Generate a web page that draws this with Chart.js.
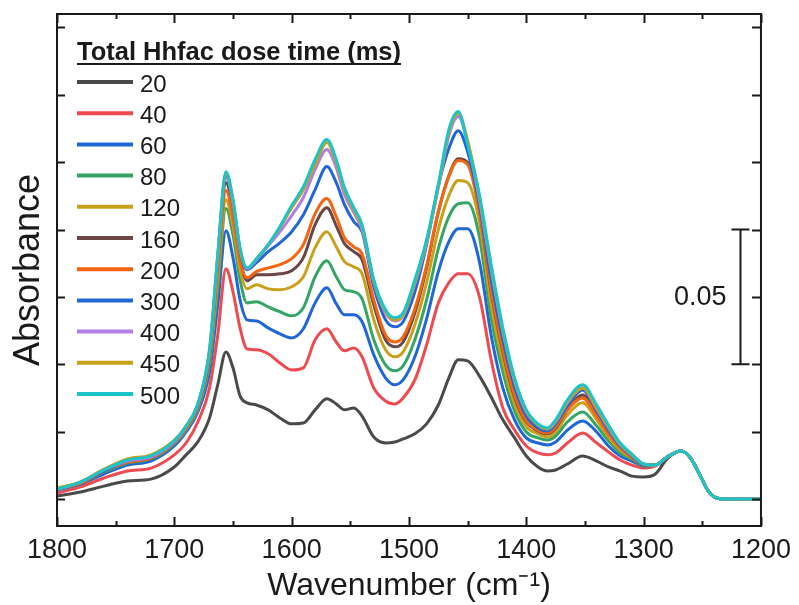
<!DOCTYPE html>
<html>
<head>
<meta charset="utf-8">
<script src="https://cdn.jsdelivr.net/npm/chart.js@4.4.0/dist/chart.umd.min.js"></script>
<style>
  html, body { margin: 0; padding: 0; background: #fff; }
</style>
</head>
<body>
<canvas id="myChart" width="799" height="605"></canvas>
<script>
// wavenumber grid (cm-1), shared by all spectra
var wavenumbers = [1800, 1780, 1760, 1740, 1720, 1700, 1690, 1680, 1670, 1663,
    1656, 1650, 1644, 1638, 1630, 1620, 1610, 1600, 1590, 1580,
    1570, 1562, 1555, 1547, 1540, 1530, 1520, 1512, 1505, 1495,
    1485, 1475, 1466, 1458, 1450, 1440, 1430, 1420, 1410, 1400,
    1390, 1382, 1375, 1365, 1352, 1340, 1330, 1320, 1310, 1300,
    1290, 1280, 1268, 1260, 1252, 1245, 1238, 1230, 1215, 1200];

var doseTimes = ['20', '40', '60', '80', '120', '160', '200', '300', '400', '450', '500'];
var lineColors = ['#4a4a4a', '#ee4a50', '#1f66d6', '#35a566', '#c9a01a', '#6b4646',
    '#f5650f', '#1f66d6', '#b27ee6', '#c9a01a', '#1cc4c8'];

var abs20 = [0.0011, 0.0026, 0.0048, 0.0067, 0.0074, 0.0119, 0.0164, 0.0212, 0.0301, 0.0424,
    0.0546, 0.0487, 0.0383, 0.0357, 0.0349, 0.0331, 0.0301, 0.0279, 0.0282, 0.0331,
    0.0372, 0.0353, 0.0331, 0.0338, 0.0308, 0.0230, 0.0208, 0.0212, 0.0223, 0.0242,
    0.0279, 0.0349, 0.0450, 0.0517, 0.0513, 0.0457, 0.0379, 0.0294, 0.0227, 0.0160,
    0.0119, 0.0104, 0.0108, 0.0130, 0.0160, 0.0141, 0.0119, 0.0104, 0.0085, 0.0082,
    0.0093, 0.0149, 0.0178, 0.0152, 0.0089, 0.0030, 0.0004, 0, 0, 0];
var abs40 = [0.0022, 0.0045, 0.0078, 0.0104, 0.0115, 0.0164, 0.0208, 0.0286, 0.0412, 0.0609,
    0.0855, 0.0769, 0.0635, 0.0557, 0.0554, 0.0539, 0.0505, 0.0479, 0.0487, 0.0591,
    0.0632, 0.0583, 0.0550, 0.0561, 0.0528, 0.0412, 0.0364, 0.0353, 0.0375, 0.0442,
    0.0572, 0.0728, 0.0803, 0.0836, 0.0836, 0.0751, 0.0517, 0.0338, 0.0256, 0.0197,
    0.0171, 0.0164, 0.0171, 0.0208, 0.0245, 0.0208, 0.0175, 0.0145, 0.0126, 0.0115,
    0.0123, 0.0156, 0.0178, 0.0152, 0.0089, 0.0030, 0.0004, 0, 0, 0];
var abs60 = [0.0033, 0.0056, 0.0093, 0.0126, 0.0141, 0.0197, 0.0249, 0.0323, 0.0472, 0.0721,
    0.0996, 0.0896, 0.0739, 0.0665, 0.0661, 0.0635, 0.0613, 0.0598, 0.0632, 0.0728,
    0.0784, 0.0725, 0.0684, 0.0684, 0.0658, 0.0535, 0.0450, 0.0424, 0.0442, 0.0528,
    0.0669, 0.0844, 0.0955, 0.1003, 0.1003, 0.0881, 0.0609, 0.0412, 0.0294, 0.0227,
    0.0208, 0.0201, 0.0212, 0.0256, 0.0290, 0.0249, 0.0197, 0.0160, 0.0141, 0.0123,
    0.0126, 0.0156, 0.0178, 0.0152, 0.0089, 0.0030, 0.0004, 0, 0, 0];
var abs80 = [0.0037, 0.0059, 0.0100, 0.0134, 0.0149, 0.0204, 0.0256, 0.0334, 0.0502, 0.0784,
    0.1078, 0.0981, 0.0814, 0.0728, 0.0732, 0.0713, 0.0695, 0.0680, 0.0710, 0.0825,
    0.0884, 0.0825, 0.0777, 0.0769, 0.0743, 0.0591, 0.0498, 0.0476, 0.0494, 0.0591,
    0.0739, 0.0929, 0.1048, 0.1096, 0.1100, 0.0974, 0.0673, 0.0472, 0.0327, 0.0249,
    0.0227, 0.0219, 0.0234, 0.0286, 0.0323, 0.0271, 0.0216, 0.0171, 0.0149, 0.0123,
    0.0126, 0.0156, 0.0178, 0.0152, 0.0089, 0.0030, 0.0004, 0, 0, 0];
var abs120 = [0.0037, 0.0059, 0.0104, 0.0137, 0.0152, 0.0208, 0.0260, 0.0338, 0.0517, 0.0814,
    0.1111, 0.1014, 0.0851, 0.0780, 0.0795, 0.0780, 0.0777, 0.0788, 0.0825, 0.0933,
    0.0992, 0.0936, 0.0881, 0.0862, 0.0836, 0.0665, 0.0554, 0.0528, 0.0546, 0.0647,
    0.0803, 0.1000, 0.1126, 0.1182, 0.1174, 0.1029, 0.0721, 0.0509, 0.0353, 0.0268,
    0.0242, 0.0230, 0.0249, 0.0312, 0.0357, 0.0294, 0.0230, 0.0182, 0.0152, 0.0126,
    0.0126, 0.0156, 0.0178, 0.0152, 0.0089, 0.0030, 0.0004, 0, 0, 0];
var abs160 = [0.0037, 0.0059, 0.0104, 0.0137, 0.0152, 0.0208, 0.0264, 0.0342, 0.0531, 0.0870,
    0.1174, 0.1074, 0.0896, 0.0810, 0.0832, 0.0832, 0.0836, 0.0847, 0.0896, 0.1018,
    0.1081, 0.1014, 0.0948, 0.0918, 0.0888, 0.0721, 0.0591, 0.0565, 0.0583, 0.0691,
    0.0858, 0.1066, 0.1200, 0.1263, 0.1249, 0.1074, 0.0769, 0.0546, 0.0379, 0.0286,
    0.0253, 0.0242, 0.0264, 0.0331, 0.0386, 0.0316, 0.0249, 0.0193, 0.0156, 0.0126,
    0.0126, 0.0156, 0.0178, 0.0152, 0.0089, 0.0030, 0.0004, 0, 0, 0];
var abs200 = [0.0037, 0.0059, 0.0104, 0.0137, 0.0152, 0.0208, 0.0264, 0.0342, 0.0524, 0.0844,
    0.1145, 0.1044, 0.0881, 0.0821, 0.0844, 0.0858, 0.0870, 0.0892, 0.0944, 0.1059,
    0.1115, 0.1048, 0.0970, 0.0936, 0.0910, 0.0739, 0.0609, 0.0583, 0.0602, 0.0706,
    0.0866, 0.1066, 0.1197, 0.1256, 0.1241, 0.1070, 0.0777, 0.0554, 0.0386, 0.0290,
    0.0256, 0.0245, 0.0268, 0.0331, 0.0375, 0.0308, 0.0242, 0.0190, 0.0156, 0.0126,
    0.0126, 0.0156, 0.0178, 0.0152, 0.0089, 0.0030, 0.0004, 0, 0, 0];
var abs300 = [0.0037, 0.0063, 0.0104, 0.0141, 0.0156, 0.0212, 0.0268, 0.0346, 0.0539, 0.0888,
    0.1197, 0.1093, 0.0918, 0.0851, 0.0877, 0.0918, 0.0951, 0.0992, 0.1055, 0.1148,
    0.1234, 0.1174, 0.1093, 0.1029, 0.0992, 0.0788, 0.0665, 0.0639, 0.0658, 0.0769,
    0.0944, 0.1163, 0.1301, 0.1367, 0.1289, 0.1093, 0.0814, 0.0591, 0.0416, 0.0308,
    0.0264, 0.0253, 0.0279, 0.0346, 0.0405, 0.0327, 0.0256, 0.0197, 0.0160, 0.0126,
    0.0126, 0.0156, 0.0178, 0.0152, 0.0089, 0.0030, 0.0004, 0, 0, 0];
var abs400 = [0.0037, 0.0063, 0.0108, 0.0141, 0.0156, 0.0212, 0.0268, 0.0349, 0.0546, 0.0896,
    0.1204, 0.1100, 0.0925, 0.0855, 0.0888, 0.0940, 0.0992, 0.1052, 0.1119, 0.1223,
    0.1297, 0.1230, 0.1130, 0.1063, 0.1000, 0.0806, 0.0691, 0.0661, 0.0680, 0.0799,
    0.0951, 0.1156, 0.1349, 0.1420, 0.1323, 0.1111, 0.0851, 0.0621, 0.0438, 0.0323,
    0.0275, 0.0260, 0.0286, 0.0357, 0.0412, 0.0334, 0.0264, 0.0201, 0.0164, 0.0130,
    0.0126, 0.0156, 0.0178, 0.0152, 0.0089, 0.0030, 0.0004, 0, 0, 0];
var abs450 = [0.0041, 0.0063, 0.0111, 0.0149, 0.0164, 0.0219, 0.0271, 0.0353, 0.0554, 0.0903,
    0.1211, 0.1107, 0.0929, 0.0858, 0.0892, 0.0944, 0.1007, 0.1081, 0.1148, 0.1241,
    0.1323, 0.1249, 0.1148, 0.1074, 0.1011, 0.0810, 0.0695, 0.0665, 0.0684, 0.0803,
    0.0955, 0.1159, 0.1360, 0.1431, 0.1330, 0.1122, 0.0862, 0.0628, 0.0442, 0.0327,
    0.0275, 0.0260, 0.0290, 0.0360, 0.0412, 0.0338, 0.0268, 0.0204, 0.0164, 0.0130,
    0.0126, 0.0156, 0.0178, 0.0152, 0.0089, 0.0030, 0.0004, 0, 0, 0];
var abs500 = [0.0037, 0.0063, 0.0108, 0.0145, 0.0160, 0.0216, 0.0271, 0.0353, 0.0554, 0.0907,
    0.1215, 0.1111, 0.0933, 0.0858, 0.0892, 0.0944, 0.1011, 0.1089, 0.1159, 0.1260,
    0.1334, 0.1260, 0.1156, 0.1081, 0.1018, 0.0814, 0.0702, 0.0673, 0.0691, 0.0814,
    0.0962, 0.1167, 0.1371, 0.1438, 0.1315, 0.1130, 0.0870, 0.0635, 0.0450, 0.0331,
    0.0279, 0.0264, 0.0294, 0.0368, 0.0424, 0.0349, 0.0275, 0.0208, 0.0167, 0.0130,
    0.0126, 0.0156, 0.0178, 0.0152, 0.0089, 0.0030, 0.0004, 0, 0, 0];

var seriesValues = [abs20, abs40, abs60, abs80, abs120, abs160, abs200, abs300, abs400, abs450, abs500];

// axis ticks (no y labels are shown, only marks)
var xTicks = [1800, 1700, 1600, 1500, 1400, 1300, 1200];
var xMinorTicks = [1750, 1650, 1550, 1450, 1350, 1250];
var yTicks = [0, 0.025, 0.05, 0.075, 0.1, 0.125, 0.15, 0.175];

// 0.05 absorbance scale bar
var scaleBarFrom = 0.05;
var scaleBarTo = 0.10;
var scaleBarAt = 1218;
var scaleBarLabel = '0.05';

var legendTitle = 'Total Hhfac dose time (ms)';
var FONT = '"Liberation Sans", Arial, sans-serif';
var INK = '#1a1a1a';

var datasets = doseTimes.map(function (t, i) {
    return {
        label: t,
        data: seriesValues[i].map(function (v, j) { return { x: wavenumbers[j], y: v }; }),
        borderColor: lineColors[i],
        borderWidth: 3,
        pointRadius: 0,
        fill: false,
        cubicInterpolationMode: 'monotone',
        order: doseTimes.length - i
    };
});

// frame with inward tick marks and the scale bar
var framePlugin = {
    id: 'frame',
    afterDatasetsDraw: function (chart) {
        var ctx = chart.ctx, a = chart.chartArea;
        var xs = chart.scales.x, ys = chart.scales.y;
        ctx.save();
        ctx.strokeStyle = INK;
        ctx.lineWidth = 2;
        ctx.strokeRect(a.left, a.top, a.right - a.left, a.bottom - a.top);
        ctx.beginPath();
        xTicks.forEach(function (v) {
            var px = Math.round(xs.getPixelForValue(v)) + 0.5;
            ctx.moveTo(px, a.bottom); ctx.lineTo(px, a.bottom - 9);
            ctx.moveTo(px, a.top); ctx.lineTo(px, a.top + 9);
        });
        xMinorTicks.forEach(function (v) {
            var px = Math.round(xs.getPixelForValue(v)) + 0.5;
            ctx.moveTo(px, a.bottom); ctx.lineTo(px, a.bottom - 5);
            ctx.moveTo(px, a.top); ctx.lineTo(px, a.top + 5);
        });
        yTicks.forEach(function (v) {
            var py = Math.round(ys.getPixelForValue(v)) + 0.5;
            ctx.moveTo(a.left, py); ctx.lineTo(a.left + 8, py);
            ctx.moveTo(a.right, py); ctx.lineTo(a.right - 9, py);
        });
        ctx.stroke();

        // scale bar
        var bx = Math.round(xs.getPixelForValue(scaleBarAt)) + 0.5;
        var y1 = ys.getPixelForValue(scaleBarTo), y2 = ys.getPixelForValue(scaleBarFrom);
        ctx.beginPath();
        ctx.moveTo(bx, y1); ctx.lineTo(bx, y2);
        ctx.moveTo(bx - 9, y1); ctx.lineTo(bx + 9, y1);
        ctx.moveTo(bx - 9, y2); ctx.lineTo(bx + 9, y2);
        ctx.stroke();
        ctx.fillStyle = INK;
        ctx.font = '27px ' + FONT;
        ctx.textAlign = 'right';
        ctx.textBaseline = 'middle';
        ctx.fillText(scaleBarLabel, bx - 14, (y1 + y2) / 2 + 1);
        ctx.restore();
    }
};

// legend drawn inside the plot, with underlined title
var legendPlugin = {
    id: 'insideLegend',
    afterDraw: function (chart) {
        var ctx = chart.ctx;
        var left = 77, titleBase = 60, first = 82, step = 31.2;
        ctx.save();
        ctx.fillStyle = INK;
        ctx.font = 'bold 25.5px ' + FONT;
        ctx.textAlign = 'left';
        ctx.textBaseline = 'alphabetic';
        ctx.fillText(legendTitle, left, titleBase);
        var w = ctx.measureText(legendTitle).width;
        ctx.strokeStyle = INK;
        ctx.lineWidth = 2;
        ctx.beginPath();
        ctx.moveTo(left, titleBase + 4); ctx.lineTo(left + w, titleBase + 4);
        ctx.stroke();

        ctx.font = '24px ' + FONT;
        chart.data.datasets.forEach(function (ds, i) {
            var y = first + i * step;
            ctx.strokeStyle = ds.borderColor;
            ctx.lineWidth = 4;
            ctx.beginPath();
            ctx.moveTo(left, y); ctx.lineTo(left + 56, y);
            ctx.stroke();
            ctx.fillStyle = INK;
            ctx.fillText(ds.label, left + 63, y + 9.5);
        });
        ctx.restore();
    }
};

var ctx = document.getElementById('myChart').getContext('2d');
var myChart = new Chart(ctx, {
    type: 'line',
    data: { datasets: datasets },
    options: {
        responsive: false,
        animation: false,
        events: [],
        layout: { padding: { top: 14, right: 36, left: 0, bottom: 0 } },
        plugins: {
            legend: { display: false },
            tooltip: { enabled: false }
        },
        scales: {
            x: {
                type: 'linear',
                reverse: true,
                min: 1200,
                max: 1800,
                afterBuildTicks: function (scale) {
                    scale.ticks = xTicks.map(function (v) { return { value: v }; });
                },
                afterFit: function (scale) { scale.height = 79; },
                grid: { display: false, drawTicks: false },
                border: { display: false },
                ticks: {
                    autoSkip: false,
                    maxRotation: 0,
                    minRotation: 0,
                    padding: 8,
                    color: INK,
                    font: { family: FONT, size: 27 },
                    callback: function (v) { return String(v); }
                },
                title: {
                    display: true,
                    text: 'Wavenumber (cm\u207B\u00B9)',
                    color: INK,
                    font: { family: FONT, size: 32 },
                    padding: { top: 0, bottom: 0 }
                }
            },
            y: {
                type: 'linear',
                min: -0.01,
                max: 0.18,
                afterBuildTicks: function (scale) {
                    scale.ticks = yTicks.map(function (v) { return { value: v }; });
                },
                afterFit: function (scale) { scale.width = 57; },
                grid: { display: false, drawTicks: false },
                border: { display: false },
                ticks: { display: false },
                title: {
                    display: true,
                    text: 'Absorbance',
                    color: INK,
                    font: { family: FONT, size: 36 },
                    padding: { top: 7, bottom: 0 }
                }
            }
        }
    },
    plugins: [framePlugin, legendPlugin]
});
</script>
</body>
</html>
